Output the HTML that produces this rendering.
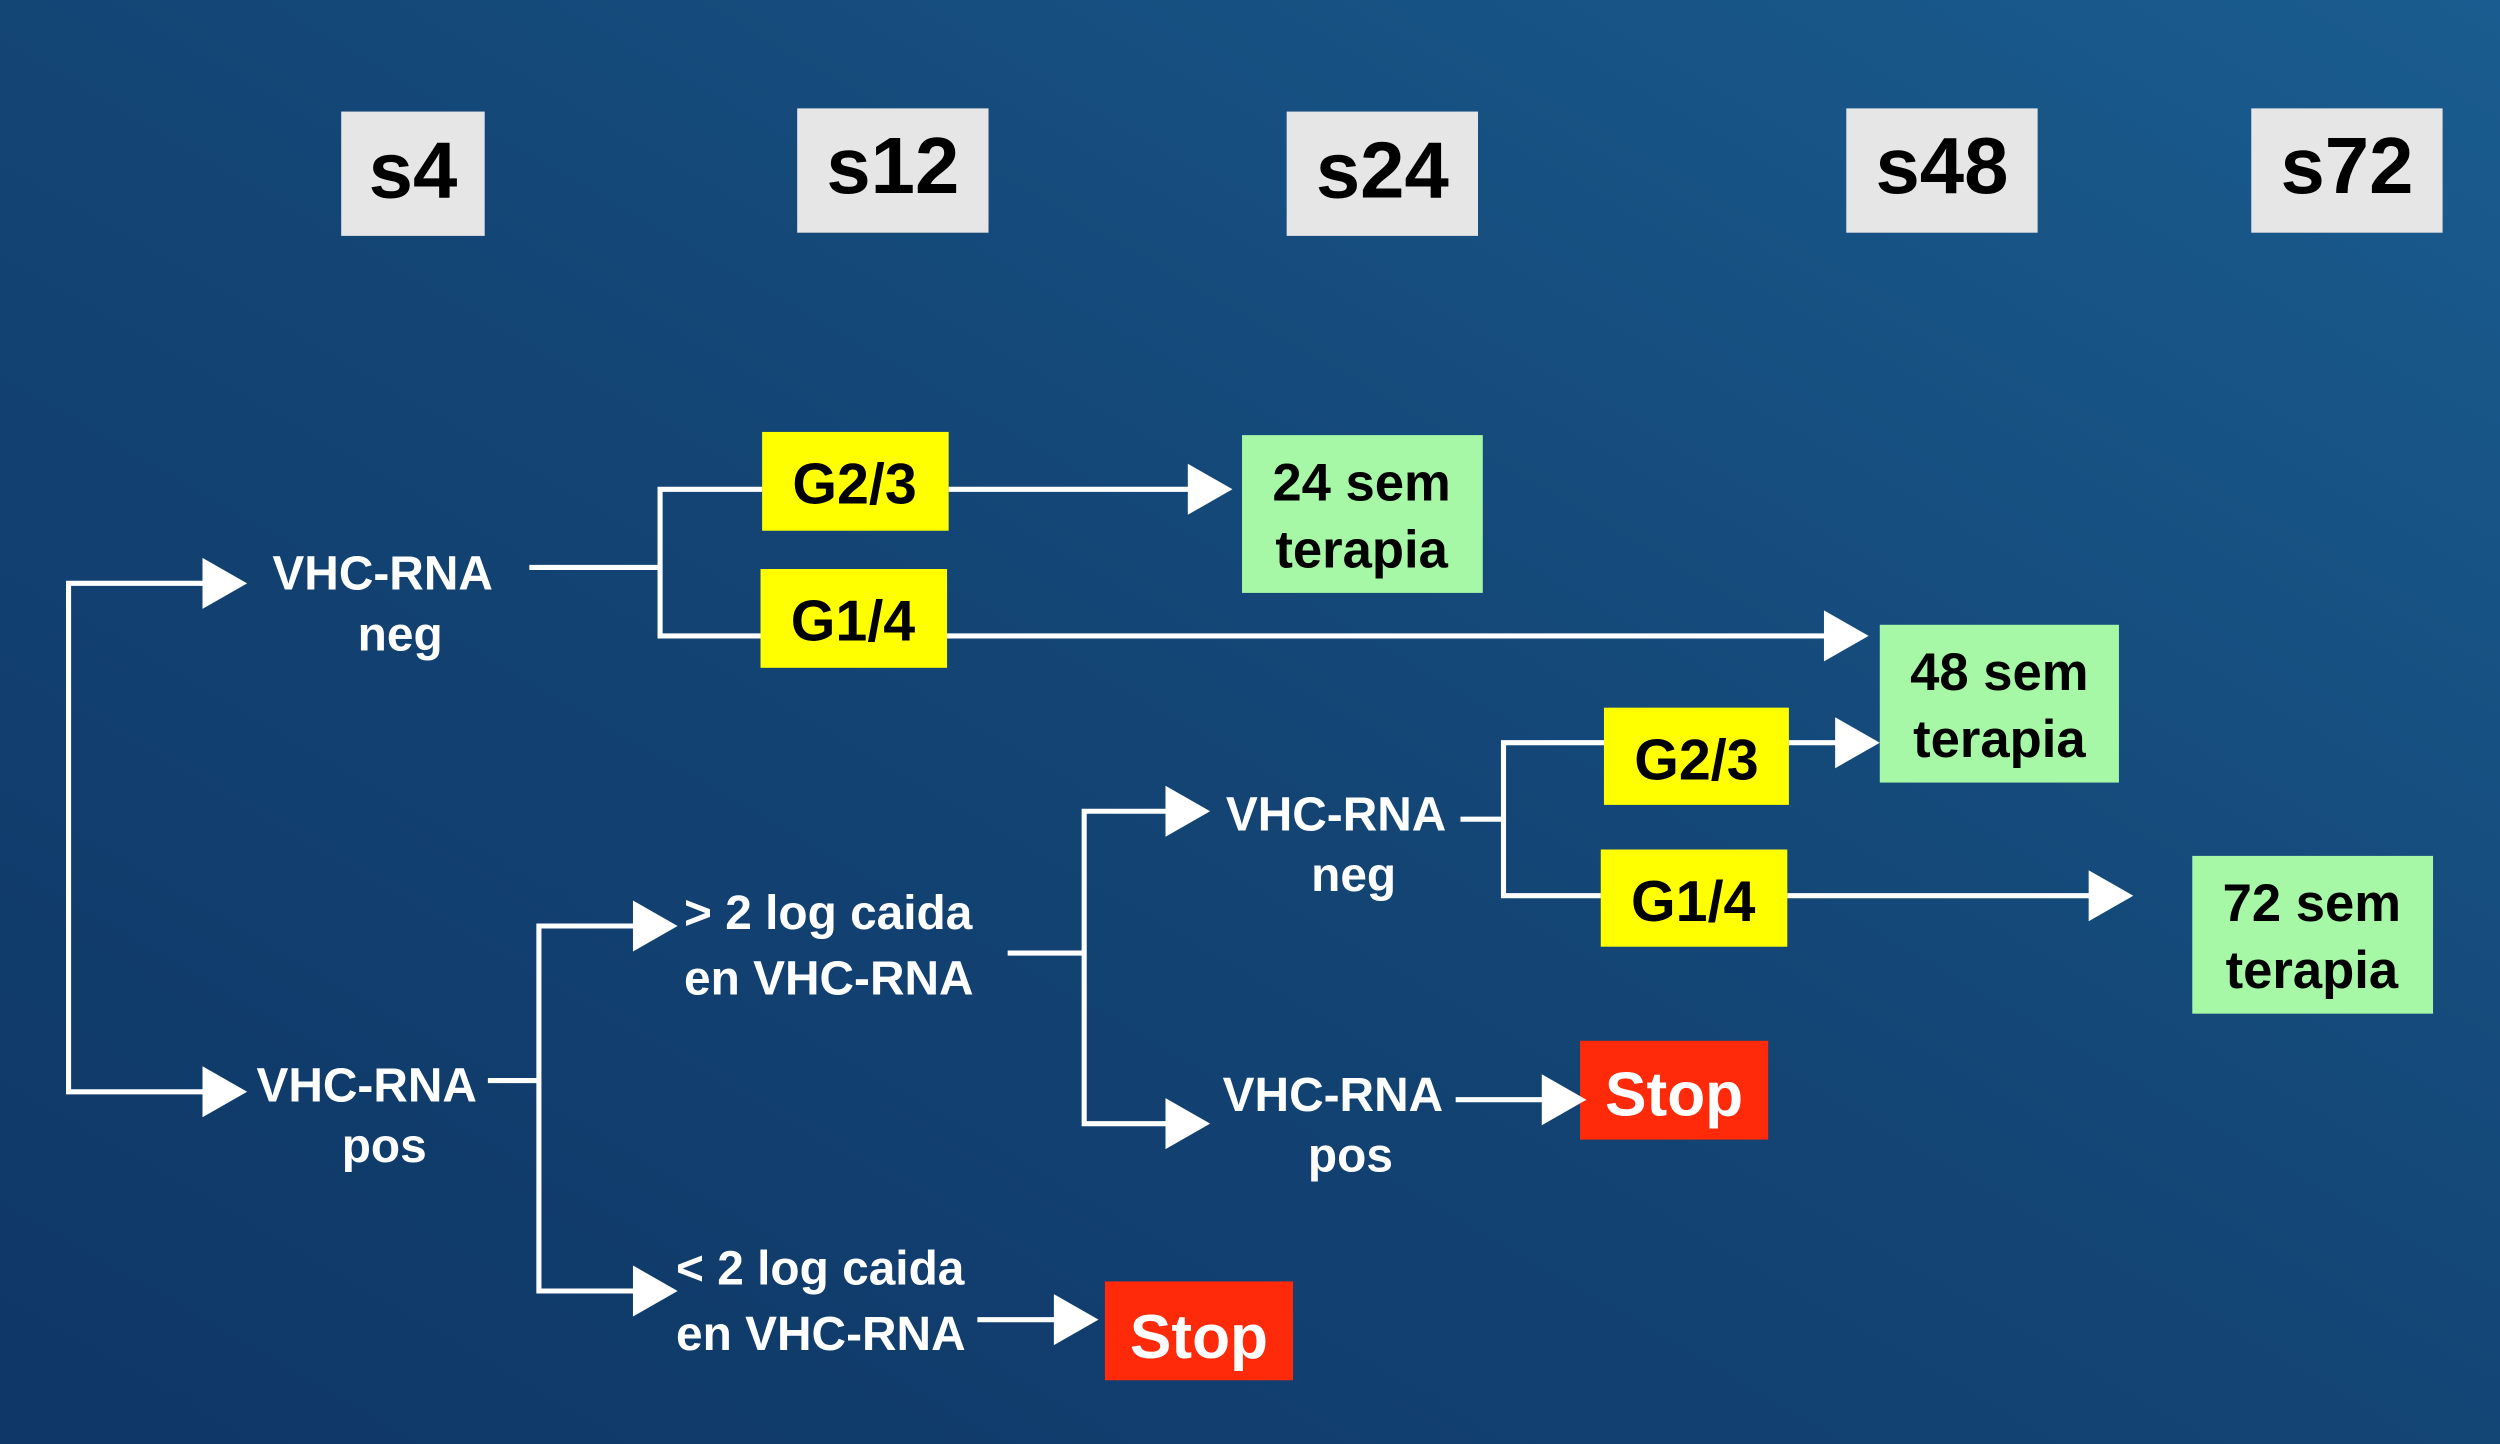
<!DOCTYPE html>
<html><head><meta charset="utf-8"><style>
html,body{margin:0;padding:0;width:2500px;height:1444px;overflow:hidden;background:#123f6d}
svg{display:block}
text{font-family:"Liberation Sans",Arial,sans-serif;font-weight:bold}
</style></head><body>
<svg width="2500" height="1444" viewBox="0 0 1568 906" preserveAspectRatio="none" xmlns="http://www.w3.org/2000/svg">
<defs>
<linearGradient id="bg" x1="0" y1="1" x2="1" y2="0">
<stop offset="0" stop-color="#0f3767"/>
<stop offset="0.5" stop-color="#134575"/>
<stop offset="1" stop-color="#1a5c8f"/>
</linearGradient>
</defs>
<rect width="1568" height="906" fill="url(#bg)"/>
<g fill="#e6e6e6">
<rect x="214" y="70" width="90" height="78"/>
<rect x="500" y="68" width="120" height="78"/>
<rect x="807" y="70" width="120" height="78"/>
<rect x="1158" y="68" width="120" height="78"/>
<rect x="1412" y="68" width="120" height="78"/>
</g>
<g font-size="50" fill="#000" text-anchor="middle">
<text x="259" y="124">s4</text>
<text x="560" y="121">s12</text>
<text x="867" y="124">s24</text>
<text x="1218" y="121">s48</text>
<text x="1472" y="121">s72</text>
</g>
<g fill="#ffff00">
<rect x="478" y="271" width="117" height="62"/>
<rect x="477" y="357" width="117" height="62"/>
<rect x="1006" y="444" width="116" height="61"/>
<rect x="1004" y="533" width="117" height="61"/>
</g>
<g font-size="36" fill="#000" text-anchor="middle">
<text x="536" y="316">G2/3</text>
<text x="535" y="402">G1/4</text>
<text x="1064" y="489">G2/3</text>
<text x="1062" y="578">G1/4</text>
</g>
<g fill="#a6f7a6">
<rect x="779" y="273" width="151" height="99"/>
<rect x="1179" y="392" width="150" height="99"/>
<rect x="1375" y="537" width="151" height="99"/>
</g>
<g font-size="33" fill="#000" text-anchor="middle">
<text x="854" y="314">24 sem</text><text x="854" y="356">terapia</text>
<text x="1254" y="433">48 sem</text><text x="1254" y="475">terapia</text>
<text x="1450" y="578">72 sem</text><text x="1450" y="620">terapia</text>
</g>
<g fill="#ff2a0a">
<rect x="991" y="653" width="118" height="62"/>
<rect x="693" y="804" width="118" height="62"/>
</g>
<g font-size="39" fill="#fff" text-anchor="middle">
<text x="1050" y="700">Stop</text>
<text x="752" y="852">Stop</text>
</g>
<g font-size="30" fill="#fff">
<text x="240" y="370" text-anchor="middle">VHC-RNA</text>
<text x="251" y="408" text-anchor="middle">neg</text>
<text x="230" y="691" text-anchor="middle">VHC-RNA</text>
<text x="241" y="729" text-anchor="middle">pos</text>
<text x="429" y="583">&gt; 2 log caida</text>
<text x="429" y="624">en VHC-RNA</text>
<text x="424" y="806">&lt; 2 log caida</text>
<text x="424" y="847">en VHC-RNA</text>
<text x="838" y="521" text-anchor="middle">VHC-RNA</text>
<text x="849" y="559" text-anchor="middle">neg</text>
<text x="836" y="697" text-anchor="middle">VHC-RNA</text>
<text x="847" y="735" text-anchor="middle">pos</text>
</g>
<g stroke="#fff" stroke-width="3.2" fill="none">
<polyline points="130,366 43,366 43,685 130,685"/>
<line x1="332" y1="356" x2="414" y2="356"/>
<polyline points="478,307 414,307 414,399 477,399"/>
<line x1="595" y1="307" x2="748" y2="307"/>
<line x1="594" y1="399" x2="1147" y2="399"/>
<line x1="306" y1="678" x2="338" y2="678"/>
<polyline points="400,581 338,581 338,810 400,810"/>
<line x1="632" y1="598" x2="680" y2="598"/>
<polyline points="734,509 680,509 680,705 734,705"/>
<line x1="916" y1="514" x2="943" y2="514"/>
<polyline points="1006,466 943,466 943,562 1004,562"/>
<line x1="1122" y1="466" x2="1154" y2="466"/>
<line x1="1121" y1="562" x2="1312" y2="562"/>
<line x1="913" y1="690" x2="970" y2="690"/>
<line x1="613" y1="828" x2="663" y2="828"/>
</g>
<g fill="#fff">
<polygon points="127,350 155,366 127,382"/>
<polygon points="127,669 155,685 127,701"/>
<polygon points="745,291 773,307 745,323"/>
<polygon points="1144,383 1172,399 1144,415"/>
<polygon points="397,565 425,581 397,597"/>
<polygon points="397,794 425,810 397,826"/>
<polygon points="731,493 759,509 731,525"/>
<polygon points="731,689 759,705 731,721"/>
<polygon points="1151,450 1179,466 1151,482"/>
<polygon points="1310,546 1338,562 1310,578"/>
<polygon points="967,674 995,690 967,706"/>
<polygon points="661,812 689,828 661,844"/>
</g>
</svg>
</body></html>
